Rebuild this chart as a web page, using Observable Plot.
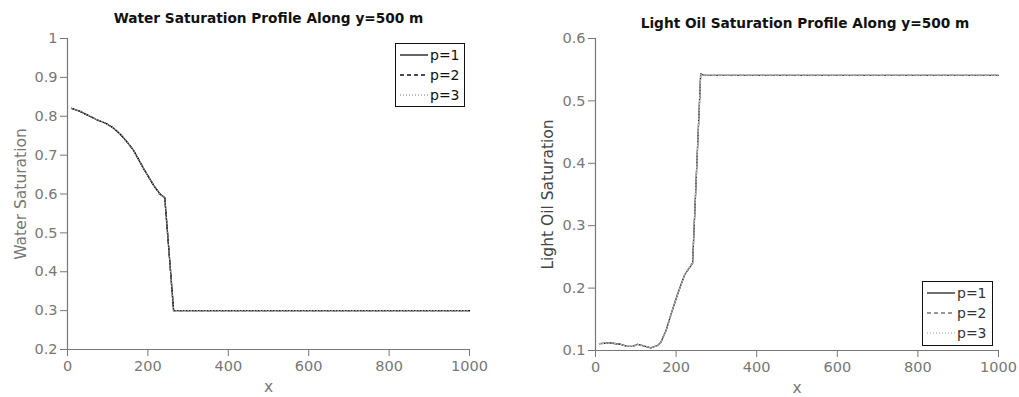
<!DOCTYPE html>
<html><head><meta charset="utf-8">
<script src="https://cdn.jsdelivr.net/npm/d3@7"></script>
<script src="https://cdn.jsdelivr.net/npm/@observablehq/plot@0.6"></script>
<style>
body{margin:0;background:#fff;}
#wrap{position:relative;width:1019px;height:397px;overflow:hidden;font-family:"DejaVu Sans",sans-serif;}
.panel{position:absolute;top:0;}
.panel [aria-label="y-axis label"] text, .panel [aria-label="x-axis label"] text{font-size:15.5px !important;fill:#777;}
#rightPanel [aria-label="y-axis label"] text{fill:#444;}
.legend{position:absolute;border:1.5px solid #111;background:#fff;font-size:14px;line-height:20px;padding:1px 3px 1px 4px;box-sizing:border-box;}
.legend .row{display:flex;align-items:center;height:20px;}
.legend svg{margin-right:2px;}
</style>
</head><body>
<div id="wrap"></div>
<script>
// ---- data ----
const xTicks = [0, 200, 400, 600, 800, 1000];
const yTicksLeft = [0.2, 0.3, 0.4, 0.5, 0.6, 0.7, 0.8, 0.9, 1];
const yTicksRight = [0.1, 0.2, 0.3, 0.4, 0.5, 0.6];
const seriesNames = ["p=1", "p=2", "p=3"];

const titleLeft = "Water Saturation Profile Along y=500 m";
const titleRight = "Light Oil Saturation Profile Along y=500 m";
const yLabelLeft = "Water Saturation";
const yLabelRight = "Light Oil Saturation";
const xLabel = "x";

// Water saturation
const xWater = [10, 30, 50, 73, 95, 114, 130, 144, 164, 189, 214, 230, 242, 264, 1000];
const water1 = [0.82, 0.813, 0.803, 0.791, 0.782, 0.770, 0.755, 0.739, 0.713, 0.666, 0.623, 0.600, 0.591, 0.30, 0.30];
const water2 = [0.82, 0.813, 0.803, 0.791, 0.782, 0.770, 0.755, 0.739, 0.713, 0.666, 0.623, 0.600, 0.589, 0.30, 0.30];
const water3 = [0.82, 0.813, 0.803, 0.791, 0.782, 0.770, 0.755, 0.739, 0.713, 0.666, 0.623, 0.600, 0.590, 0.30, 0.30];

// Light oil saturation
const xOil = [10, 37, 62, 79, 92, 104, 117, 137, 154, 162, 175, 187, 204, 221, 241, 261, 270, 1000];
const oil1 = [0.111, 0.112, 0.110, 0.1065, 0.1065, 0.110, 0.108, 0.1043, 0.108, 0.113, 0.132, 0.157, 0.191, 0.221, 0.240, 0.5435, 0.541, 0.541];
const oil2 = [0.111, 0.112, 0.110, 0.1065, 0.1065, 0.110, 0.108, 0.1043, 0.108, 0.113, 0.132, 0.157, 0.191, 0.221, 0.241, 0.5425, 0.541, 0.541];
const oil3 = [0.111, 0.112, 0.110, 0.1065, 0.1065, 0.110, 0.108, 0.1043, 0.108, 0.113, 0.132, 0.157, 0.191, 0.221, 0.240, 0.543, 0.541, 0.541];

// ---- build ----
const toRows = (xs, ys) => xs.map((x, i) => ({x, y: ys[i]}));
const fmt = d => d === 1 ? "1" : d.toFixed(1);
const font = '"DejaVu Sans", sans-serif';

function makePanel(opts) {
  return Plot.plot({
    width: 510, height: 397,
    marginLeft: opts.ml, marginRight: opts.mr, marginTop: 38, marginBottom: opts.mb,
    style: {fontFamily: font, fontSize: "14.5px", color: "#777", background: "transparent", overflow: "visible"},
    x: {domain: [0, 1000]},
    y: {domain: opts.ydomain},
    marks: [
      Plot.axisY({ticks: opts.yticks, tickSize: 7, tickPadding: 3, tickFormat: fmt,
        label: opts.ylabel, labelAnchor: "center", labelOffset: opts.ylo, labelArrow: "none", fontSize: 14.5}),
      Plot.axisX({ticks: xTicks, tickSize: 7, tickPadding: 4, tickFormat: d => String(d),
        label: xLabel, labelAnchor: "center", labelOffset: 42, labelArrow: "none", fontSize: 14.5}),
      Plot.ruleX([0], {stroke: "#777", strokeWidth: 1.2}),
      Plot.ruleY([opts.ydomain[0]], {stroke: "#777", strokeWidth: 1.2}),
      Plot.line(toRows(opts.xs, opts.s1), {x: "x", y: "y", stroke: "#111", strokeWidth: 1.3}),
      Plot.line(toRows(opts.xs, opts.s2), {x: "x", y: "y", stroke: opts.c2, strokeWidth: 1.3, strokeDasharray: "4,3"}),
      Plot.line(toRows(opts.xs, opts.s3), {x: "x", y: "y", stroke: opts.c3, strokeWidth: 1.1, strokeDasharray: "1,2"}),
      Plot.text([opts.title], {frameAnchor: "top", lineAnchor: "middle", dy: opts.tdy, dx: opts.tdx,
        fontWeight: "bold", fontSize: 13.7, fill: "#111", text: d => d})
    ]
  });
}

function makeLegend(left, top, width, height, colors, textColor) {
  const div = document.createElement("div");
  div.className = "legend";
  Object.assign(div.style, {left: left + "px", top: top + "px", width: width + "px", height: height + "px", color: textColor});
  const dashes = [null, "4,3", "1,2"];
  seriesNames.forEach((name, i) => {
    const row = document.createElement("div");
    row.className = "row";
    row.innerHTML = `<svg width="28" height="10"><line x1="0" x2="28" y1="5" y2="5" stroke="${colors[i]}" stroke-width="1.3" ${dashes[i] ? `stroke-dasharray="${dashes[i]}"` : ""}/></svg><span>${name}</span>`;
    div.appendChild(row);
  });
  return div;
}

const wrap = document.getElementById("wrap");

const left = makePanel({ml: 67, mr: 41, mb: 48, ydomain: [0.2, 1], yticks: yTicksLeft, ylabel: yLabelLeft, ylo: 53,
  xs: xWater, s1: water1, s2: water2, s3: water3, c2: "#111", c3: "#999", title: titleLeft, tdy: -20, tdx: 0});
left.classList.add("panel"); left.style.left = "0px";
wrap.appendChild(left);

const right = makePanel({ml: 85, mr: 22, mb: 47, ydomain: [0.1, 0.6], yticks: yTicksRight, ylabel: yLabelRight, ylo: 54,
  xs: xOil, s1: oil1, s2: oil2, s3: oil3, c2: "#777", c3: "#bbb", title: titleRight, tdy: -15, tdx: 8});
right.classList.add("panel"); right.style.left = "510px"; right.id = "rightPanel";
wrap.appendChild(right);

wrap.appendChild(makeLegend(395, 43, 70, 64, ["#111", "#111", "#aaa"], "#111"));
wrap.appendChild(makeLegend(922, 281, 71, 65, ["#222", "#777", "#bbb"], "#333"));
</script>
</body></html>
